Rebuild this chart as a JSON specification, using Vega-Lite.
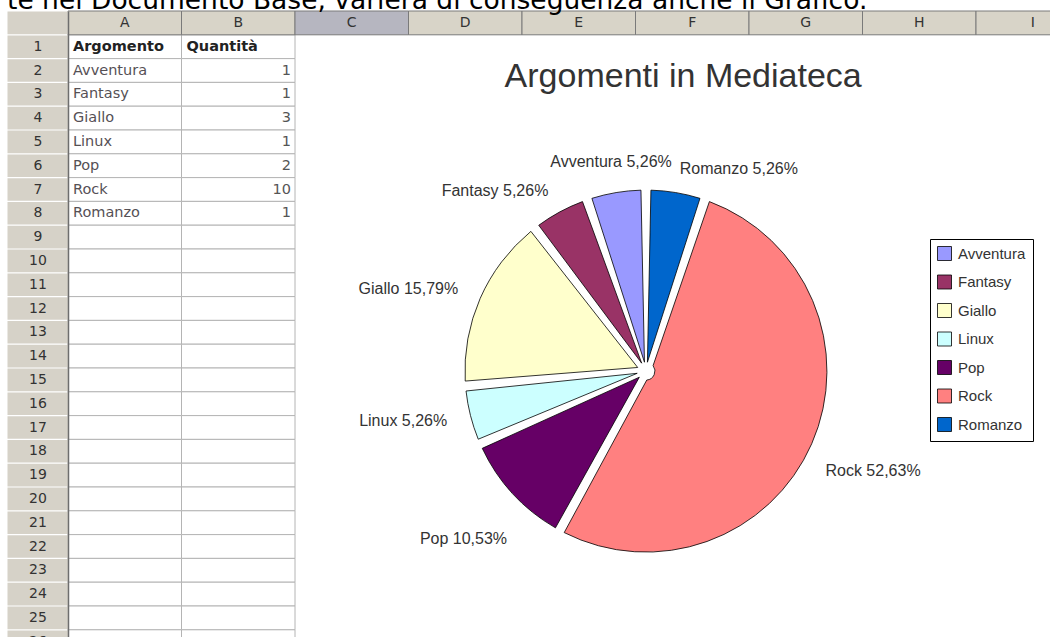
{
  "$schema": "https://vega.github.io/schema/vega-lite/v6.json",
  "width": 982,
  "height": 626,
  "autosize": {"type": "none"},
  "padding": {"left": 68, "top": 11, "right": 0, "bottom": 0},
  "background": "white",
  "config": {
    "view": {"stroke": null},
    "axisY": {
      "orient": "left",
      "grid": false,
      "domain": true,
      "domainColor": "#6e6e6e",
      "domainWidth": 1.5,
      "ticks": true,
      "tickSize": 61,
      "tickWidth": 22.6,
      "tickColor": "#d6d2c8",
      "tickRound": false,
      "labelAlign": "center",
      "labelBaseline": "middle",
      "labelPadding": -30.5,
      "labelFont": "DejaVu Sans",
      "labelFontSize": 14,
      "labelColor": "#333333",
      "labelOverlap": false,
      "titleOpacity": 0
    }
  },
  "datasets": {
    "righe": [
      {"riga": "1"}, {"riga": "2"}, {"riga": "3"}, {"riga": "4"}, {"riga": "5"}, {"riga": "6"}, {"riga": "7"}, {"riga": "8"}, {"riga": "9"}, {"riga": "10"}, {"riga": "11"}, {"riga": "12"}, {"riga": "13"},
      {"riga": "14"}, {"riga": "15"}, {"riga": "16"}, {"riga": "17"}, {"riga": "18"}, {"riga": "19"}, {"riga": "20"}, {"riga": "21"}, {"riga": "22"}, {"riga": "23"}, {"riga": "24"}, {"riga": "25"}, {"riga": "26"}
    ],
    "colonne": [
      {"colonna": "A"}, {"colonna": "B"}, {"colonna": "C"}, {"colonna": "D"}, {"colonna": "E"}, {"colonna": "F"}, {"colonna": "G"}, {"colonna": "H"}, {"colonna": "I"}
    ],
    "intestazione": [
      {"colonna": "A", "testo": "Argomento"},
      {"colonna": "B", "testo": "Quantità"}
    ],
    "mediateca": [
      {"riga": "2", "Argomento": "Avventura", "Quantità": 1, "Etichetta": "Avventura 5,26%"},
      {"riga": "3", "Argomento": "Fantasy", "Quantità": 1, "Etichetta": "Fantasy 5,26%"},
      {"riga": "4", "Argomento": "Giallo", "Quantità": 3, "Etichetta": "Giallo 15,79%"},
      {"riga": "5", "Argomento": "Linux", "Quantità": 1, "Etichetta": "Linux 5,26%"},
      {"riga": "6", "Argomento": "Pop", "Quantità": 2, "Etichetta": "Pop 10,53%"},
      {"riga": "7", "Argomento": "Rock", "Quantità": 10, "Etichetta": "Rock 52,63%"},
      {"riga": "8", "Argomento": "Romanzo", "Quantità": 1, "Etichetta": "Romanzo 5,26%"}
    ],
    "titolo": [{"testo": "Argomenti in Mediateca"}],
    "testata": [{"testo": "te nel Documento Base, varierà di conseguenza anche il Grafico."}]
  },
  "layer": [
    {
      "data": {"name": "righe"},
      "mark": {"type": "rect", "fill": "white", "stroke": "#b4b4b4", "strokeWidth": 1},
      "encoding": {
        "x": {
          "datum": "A",
          "scale": {"type": "band", "domain": ["A", "B", "C", "D", "E", "F", "G", "H", "I"], "range": [0, 1021.5], "paddingInner": 0, "paddingOuter": 0},
          "axis": null
        },
        "y": {
          "field": "riga",
          "type": "ordinal",
          "scale": {"type": "band", "domain": ["0", "1", "2", "3", "4", "5", "6", "7", "8", "9", "10", "11", "12", "13", "14", "15", "16", "17", "18", "19", "20", "21", "22", "23", "24", "25", "26"], "range": [0, 642.6], "paddingInner": 0, "paddingOuter": 0},
          "axis": {"title": null, "labelExpr": "datum.value == '0' ? '' : datum.value"}
        }
      }
    },
    {
      "data": {"name": "righe"},
      "mark": {"type": "rect", "fill": "white", "stroke": "#b4b4b4", "strokeWidth": 1},
      "encoding": {
        "x": {"datum": "B", "axis": null},
        "y": {"field": "riga", "type": "ordinal"}
      }
    },
    {
      "data": {"name": "colonne"},
      "mark": {"type": "rect", "stroke": "#7a7a7a", "strokeWidth": 1},
      "encoding": {
        "x": {"field": "colonna", "type": "nominal", "axis": null},
        "y": {"datum": "0"},
        "fill": {"condition": {"test": "datum.colonna === 'C'", "value": "#b6b6c0"}, "value": "#d8d4c8"}
      }
    },
    {
      "data": {"name": "colonne"},
      "mark": {"type": "text", "font": "DejaVu Sans", "fontSize": 14, "fill": "#333333", "baseline": "middle", "align": "center"},
      "encoding": {
        "x": {"field": "colonna", "type": "nominal", "axis": null},
        "y": {"datum": "0"},
        "text": {"field": "colonna"}
      }
    },
    {
      "data": {"name": "intestazione"},
      "mark": {"type": "text", "font": "DejaVu Sans", "fontSize": 14.5, "fontWeight": "bold", "fill": "#222222", "baseline": "middle", "align": "left", "dx": 5},
      "encoding": {
        "x": {"field": "colonna", "type": "nominal", "bandPosition": 0, "axis": null},
        "y": {"datum": "1"},
        "text": {"field": "testo"}
      }
    },
    {
      "data": {"name": "mediateca"},
      "mark": {"type": "text", "font": "DejaVu Sans", "fontSize": 14.5, "fill": "#555055", "baseline": "middle", "align": "left", "dx": 5},
      "encoding": {
        "x": {"datum": "A", "bandPosition": 0, "axis": null},
        "y": {"field": "riga", "type": "ordinal"},
        "text": {"field": "Argomento"}
      }
    },
    {
      "data": {"name": "mediateca"},
      "mark": {"type": "text", "font": "DejaVu Sans", "fontSize": 14.5, "fill": "#555555", "baseline": "middle", "align": "right", "dx": -4},
      "encoding": {
        "x": {"datum": "B", "bandPosition": 1, "axis": null},
        "y": {"field": "riga", "type": "ordinal"},
        "text": {"field": "Quantità"}
      }
    },
    {
      "data": {"name": "testata"},
      "mark": {"type": "text", "font": "DejaVu Sans", "fontSize": 26.5, "fill": "#000000", "baseline": "alphabetic", "align": "left", "dx": -61, "dy": -2},
      "encoding": {
        "x": {"datum": "A", "bandPosition": 0, "axis": null},
        "y": {"datum": "0", "bandPosition": 0},
        "text": {"field": "testo"}
      }
    },
    {
      "data": {"name": "mediateca"},
      "mark": {"type": "arc", "outerRadius": 181, "innerRadius": 9, "padAngle": 0.055, "stroke": "#000000", "strokeWidth": 0.8},
      "encoding": {
        "x": {"datum": "F", "bandPosition": 0.092, "axis": null},
        "y": {"datum": "15", "bandPosition": 0.13},
        "theta": {"field": "Quantità", "type": "quantitative", "stack": true},
        "order": {"field": "Argomento", "sort": "descending"},
        "color": {
          "field": "Argomento",
          "type": "nominal",
          "scale": {
            "domain": ["Avventura", "Fantasy", "Giallo", "Linux", "Pop", "Rock", "Romanzo"],
            "range": ["#9999ff", "#993366", "#ffffcc", "#ccffff", "#660066", "#ff8080", "#0066cc"]
          },
          "legend": {
            "orient": "none",
            "legendX": 862,
            "legendY": 228,
            "title": null,
            "strokeColor": "#000000",
            "fillColor": "white",
            "padding": 7,
            "cornerRadius": 0,
            "symbolType": "square",
            "symbolSize": 196,
            "symbolStrokeColor": "#000000",
            "symbolStrokeWidth": 0.8,
            "symbolOpacity": 1,
            "labelFont": "Liberation Sans",
            "labelFontSize": 15,
            "labelColor": "#333333",
            "labelOffset": 6,
            "rowPadding": 9.5
          }
        }
      }
    },
    {
      "data": {"name": "mediateca"},
      "mark": {"type": "text", "radius": 248, "align": "center", "baseline": "middle", "font": "Liberation Sans", "fontSize": 16, "fill": "#333333"},
      "encoding": {
        "x": {"datum": "F", "bandPosition": 0.092, "axis": null},
        "y": {"datum": "15", "bandPosition": 0.13},
        "theta": {"field": "Quantità", "type": "quantitative", "stack": true},
        "order": {"field": "Argomento", "sort": "descending"},
        "detail": {"field": "Argomento"},
        "text": {"field": "Etichetta"},
        "opacity": {"condition": {"test": "datum.Argomento === 'Pop' || datum.Argomento === 'Rock'", "value": 1}, "value": 0}
      }
    },
    {
      "data": {"name": "mediateca"},
      "mark": {"type": "text", "radius": 212, "align": "center", "baseline": "middle", "font": "Liberation Sans", "fontSize": 16, "fill": "#333333"},
      "encoding": {
        "x": {"datum": "F", "bandPosition": 0.092, "axis": null},
        "y": {"datum": "15", "bandPosition": 0.13},
        "theta": {"field": "Quantità", "type": "quantitative", "stack": true},
        "order": {"field": "Argomento", "sort": "descending"},
        "detail": {"field": "Argomento"},
        "text": {"field": "Etichetta"},
        "opacity": {"condition": {"test": "datum.Argomento === 'Avventura'", "value": 1}, "value": 0}
      }
    },
    {
      "data": {"name": "mediateca"},
      "mark": {"type": "text", "radius": 205, "align": "right", "baseline": "middle", "font": "Liberation Sans", "fontSize": 16, "fill": "#333333"},
      "encoding": {
        "x": {"datum": "F", "bandPosition": 0.092, "axis": null},
        "y": {"datum": "15", "bandPosition": 0.13},
        "theta": {"field": "Quantità", "type": "quantitative", "stack": true},
        "order": {"field": "Argomento", "sort": "descending"},
        "detail": {"field": "Argomento"},
        "text": {"field": "Etichetta"},
        "opacity": {"condition": {"test": "datum.Argomento === 'Fantasy' || datum.Argomento === 'Giallo' || datum.Argomento === 'Linux'", "value": 1}, "value": 0}
      }
    },
    {
      "data": {"name": "mediateca"},
      "mark": {"type": "text", "radius": 205, "align": "left", "baseline": "middle", "font": "Liberation Sans", "fontSize": 16, "fill": "#333333"},
      "encoding": {
        "x": {"datum": "F", "bandPosition": 0.092, "axis": null},
        "y": {"datum": "15", "bandPosition": 0.13},
        "theta": {"field": "Quantità", "type": "quantitative", "stack": true},
        "order": {"field": "Argomento", "sort": "descending"},
        "detail": {"field": "Argomento"},
        "text": {"field": "Etichetta"},
        "opacity": {"condition": {"test": "datum.Argomento === 'Romanzo'", "value": 1}, "value": 0}
      }
    },
    {
      "data": {"name": "titolo"},
      "mark": {"type": "text", "align": "center", "baseline": "alphabetic", "font": "Liberation Sans", "fontSize": 34, "fill": "#333333"},
      "encoding": {
        "x": {"datum": "F", "bandPosition": 0.42, "axis": null},
        "y": {"datum": "3", "bandPosition": 0.19},
        "text": {"field": "testo"}
      }
    }
  ]
}
